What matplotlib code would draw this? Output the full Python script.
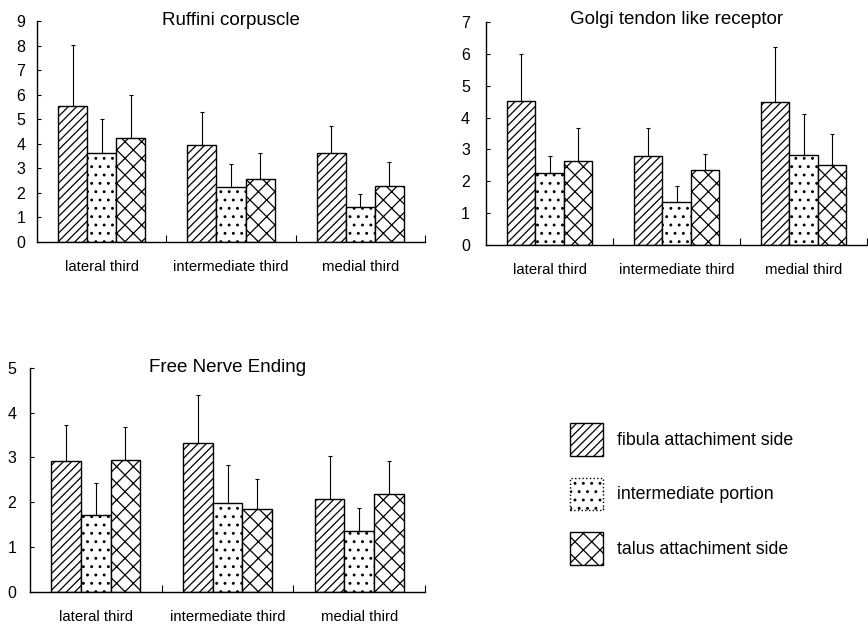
import numpy as np
import matplotlib
matplotlib.use('Agg')
import matplotlib.pyplot as plt
from matplotlib.patches import Patch

plt.rcParams['font.family'] = ['Liberation Sans', 'DejaVu Sans']
plt.rcParams['hatch.linewidth'] = 0.9

regions = ['lateral third', 'intermediate third', 'medial third']
sides = ['fibula attachiment side', 'intermediate portion', 'talus attachiment side']
hatches = ['////', '..', 'xx']

# rows: fibula side, intermediate portion, talus side ; cols: regions
ruffini_mean = [[5.53, 3.94, 3.64], [3.63, 2.24, 1.44], [4.23, 2.57, 2.30]]
ruffini_sd = [[2.48, 1.36, 1.09], [1.37, 0.94, 0.51], [1.77, 1.07, 0.95]]

golgi_mean = [[4.52, 2.78, 4.50], [2.25, 1.36, 2.83], [2.62, 2.36, 2.51]]
golgi_sd = [[1.47, 0.89, 1.70], [0.54, 0.49, 1.27], [1.05, 0.49, 0.96]]

free_mean = [[2.91, 3.32, 2.07], [1.72, 1.99, 1.36], [2.94, 1.84, 2.18]]
free_sd = [[0.81, 1.08, 0.97], [0.71, 0.85, 0.51], [0.75, 0.67, 0.75]]


def draw_panel(ax, title, mean, sd, ymax, title_y, ypad):
    x = np.arange(len(regions))
    w = 0.225
    for i in range(len(sides)):
        pos = x + (i - 1) * w
        ax.bar(pos, mean[i], w, color='white', edgecolor='black',
               linewidth=1.0, hatch=hatches[i], zorder=2)
        ax.errorbar(pos, mean[i], yerr=[np.zeros(len(x)), sd[i]], fmt='none',
                    ecolor='black', elinewidth=0.8, capsize=1.5,
                    capthick=0.8, zorder=3)

    ax.set_xlim(-0.5, 2.5)
    ax.set_ylim(0, ymax)
    ax.set_yticks(range(0, ymax + 1))
    ax.spines[['top', 'right']].set_visible(False)
    for s in ('left', 'bottom'):
        ax.spines[s].set_linewidth(1.0)

    # group separators as major ticks, region names as minor ticks
    ax.set_xticks([0.5, 1.5, 2.5])
    ax.set_xticklabels([])
    ax.set_xticks(x, minor=True)
    ax.set_xticklabels(regions, minor=True)
    ax.tick_params(axis='x', which='major', direction='in', length=5)
    ax.tick_params(axis='x', which='minor', length=0, pad=13, labelsize=10.7)
    ax.tick_params(axis='y', direction='in', length=3, pad=ypad, labelsize=11.5)

    ax.text(0.5, title_y, title, transform=ax.transAxes, ha='center',
            va='baseline', fontsize=13.5)


fig = plt.figure(figsize=(8.68, 6.25), dpi=100)

ax1 = fig.add_axes([0.0426, 0.6128, 0.447, 0.3536])
ax2 = fig.add_axes([0.5599, 0.608, 0.439, 0.357])
ax3 = fig.add_axes([0.0346, 0.0533, 0.455, 0.358])

draw_panel(ax1, 'Ruffini corpuscle', ruffini_mean, ruffini_sd, 9, 0.982, 8.5)
draw_panel(ax2, 'Golgi tendon like receptor', golgi_mean, golgi_sd, 7, 0.99, 11.5)
draw_panel(ax3, 'Free Nerve Ending', free_mean, free_sd, 5, 0.983, 10)

handles = [Patch(facecolor='white', edgecolor='black', hatch=hatches[i],
                 linewidth=1.0, linestyle=':' if i == 1 else '-')
           for i in range(len(sides))]
fig.legend(handles, sides, loc='upper left', bbox_to_anchor=(570 / 868, 1 - 423 / 625),
           frameon=False, fontsize=12.8, handlelength=1.85, handleheight=2.45,
           labelspacing=1.24, handletextpad=0.79, borderpad=0, borderaxespad=0)

fig.savefig('out.png', dpi=100, facecolor='white')
